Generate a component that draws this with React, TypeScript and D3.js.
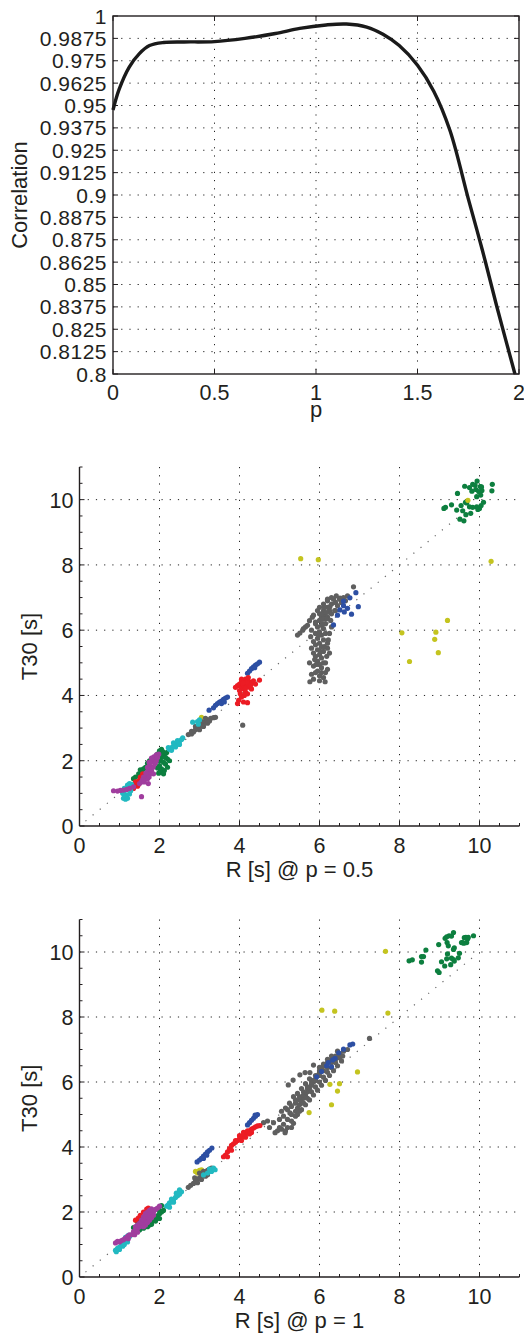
import React, { useRef, useEffect } from 'react';
import * as d3 from 'd3';

// correlation vs p (top panel)
const pValues = [0, 0.03, 0.08, 0.13, 0.18, 0.25, 0.35, 0.5, 0.65, 0.8, 0.92, 1.05, 1.15, 1.25, 1.33, 1.41, 1.5, 1.58, 1.66, 1.75, 1.82, 1.89, 1.98];
const corrValues = [0.9475, 0.959, 0.9715, 0.979, 0.9835, 0.9852, 0.9855, 0.9857, 0.9875, 0.9902, 0.9931, 0.995, 0.9955, 0.9938, 0.9898, 0.9835, 0.9725, 0.958, 0.936, 0.898, 0.869, 0.838, 0.8];
const corrTicks = [0.8, 0.8125, 0.825, 0.8375, 0.85, 0.8625, 0.875, 0.8875, 0.9, 0.9125, 0.925, 0.9375, 0.95, 0.9625, 0.975, 0.9875, 1];
const corrTickLabels = ['0.8', '0.8125', '0.825', '0.8375', '0.85', '0.8625', '0.875', '0.8875', '0.9', '0.9125', '0.925', '0.9375', '0.95', '0.9625', '0.975', '0.9875', '1'];
const pTicks = [0, 0.5, 1, 1.5, 2];
const pTickLabels = ['0', '0.5', '1', '1.5', '2'];

// scatter panels share these
const scatterTicks = [0, 2, 4, 6, 8, 10];
const scatterTickLabels = ['0', '2', '4', '6', '8', '10'];
const diagLine = [0.15, 9.9];

// --- p = 0.5 ---
const halfGreen = [
  [9.11, 9.73], [9.15, 9.76], [9.3, 9.84], [9.45, 10.19], [9.63, 10.41], [9.75, 10.37], [9.83, 10.47], [9.89, 10.44],
  [9.94, 10.57], [9.91, 10.31], [9.98, 10.25], [10.02, 10.4], [10.06, 10.28], [10.32, 10.47], [10.31, 10.27], [10.1, 9.92],
  [10.04, 9.82], [10.0, 9.73], [9.96, 9.7], [9.93, 9.78], [9.83, 9.76], [9.75, 9.78], [9.68, 9.9], [9.54, 9.82],
  [9.43, 9.68], [9.58, 9.66], [9.78, 9.58], [9.66, 9.54], [9.51, 9.4], [9.61, 9.35], [9.81, 10.26], [9.93, 10.09],
  [9.65, 9.92], [10.05, 10.39], [10.03, 10.14],
  [1.4, 1.5], [1.5, 1.55], [1.55, 1.65], [1.6, 1.75], [1.65, 1.8], [1.7, 1.92], [1.75, 2.0], [1.8, 2.02], [1.85, 2.05],
  [1.9, 2.1], [1.95, 2.2], [2.0, 2.3], [2.05, 2.35], [2.1, 2.2], [2.05, 2.1], [2.0, 2.0], [2.1, 1.95], [2.15, 1.9],
  [2.2, 1.8], [2.12, 1.7], [2.05, 1.75], [2.2, 2.05], [2.25, 2.0], [2.0, 1.85], [1.95, 1.78], [1.58, 1.55], [1.48, 1.6],
  [2.08, 2.28], [1.35, 1.45], [2.15, 2.1], [1.98, 1.62], [2.02, 1.68], [2.1, 1.6], [2.18, 2.25], [1.52, 1.72]
];
const halfYellow = [
  [5.53, 8.19], [5.97, 8.16], [10.29, 8.11], [9.71, 9.98], [8.06, 5.92], [8.91, 5.94], [8.88, 5.72], [9.2, 6.3],
  [8.97, 5.31], [8.25, 5.04], [3.05, 3.33]
];
const halfGray = [
  [5.51, 5.91], [5.58, 6.0], [5.75, 6.29], [5.85, 6.46], [5.9, 6.2], [6.0, 6.5], [6.1, 6.6], [6.2, 6.7], [6.26, 6.72],
  [6.3, 6.8], [6.4, 6.85], [6.5, 6.95], [6.51, 6.98], [6.6, 7.0], [6.85, 7.33], [6.0, 6.7], [6.1, 6.8], [6.2, 6.9],
  [6.35, 6.95], [5.95, 6.6], [6.05, 6.4], [6.15, 6.45], [6.25, 6.55], [5.65, 6.1],
  [6.25, 6.6], [6.15, 6.55], [6.05, 6.5], [6.2, 6.4], [6.1, 6.35], [6.0, 6.3], [6.15, 6.2], [6.05, 6.15], [5.95, 6.1],
  [6.1, 6.05], [6.0, 5.95], [5.9, 5.9], [6.05, 5.85], [5.95, 5.75], [6.1, 5.7], [6.0, 5.6], [5.9, 5.55], [6.05, 5.5],
  [5.95, 5.4], [6.1, 5.35], [6.0, 5.25], [5.9, 5.2], [6.05, 5.15], [5.95, 5.05], [6.1, 5.0], [6.0, 4.95], [5.85, 4.9],
  [6.05, 4.85], [5.95, 4.75], [6.15, 4.7], [5.8, 4.65], [6.0, 4.6], [6.1, 4.55], [5.85, 4.5], [5.76, 4.42], [6.14, 4.42],
  [6.2, 4.8], [6.2, 5.6], [5.85, 5.3], [6.15, 5.9],
  [5.82, 6.4], [5.9, 6.25], [6.28, 6.3], [6.3, 6.1], [6.25, 5.9], [6.22, 5.7], [6.2, 5.45], [6.18, 5.2], [6.15, 5.0],
  [6.25, 5.3], [5.8, 6.0], [5.78, 5.8], [5.85, 5.65], [5.8, 5.45], [5.88, 5.1], [5.75, 5.0], [5.9, 4.7], [6.0, 4.45],
  [6.05, 4.7], [5.92, 4.95], [6.02, 5.35], [6.12, 5.5], [5.98, 5.85], [6.08, 6.2], [6.18, 6.35], [6.3, 6.5], [6.38, 6.6],
  [6.45, 6.75], [6.55, 6.85], [6.65, 6.9], [6.7, 7.05], [6.4, 6.6], [5.7, 6.15], [5.6, 6.05], [5.45, 5.85], [6.12, 6.7],
  [6.2, 6.95], [6.3, 7.0], [6.42, 7.05],
  [2.72, 2.8], [2.8, 2.82], [2.85, 2.88], [2.9, 2.95], [2.95, 3.0], [3.0, 3.05], [3.05, 3.1], [3.1, 3.15], [3.15, 3.2],
  [3.2, 3.25], [3.28, 3.3], [3.35, 3.32], [3.4, 3.33], [3.0, 2.95], [3.1, 3.05], [3.2, 3.15], [3.05, 3.2], [3.15, 3.3],
  [2.9, 3.05], [3.25, 3.22], [2.8, 2.9], [4.08, 3.09]
];
const halfBlue = [
  [3.24, 3.55], [3.35, 3.62], [3.4, 3.7], [3.45, 3.75], [3.5, 3.8], [3.55, 3.83], [3.6, 3.88], [3.65, 3.92], [3.7, 3.95],
  [3.55, 3.75], [3.62, 3.8], [4.2, 4.68], [4.25, 4.75], [4.3, 4.82], [4.35, 4.88], [4.4, 4.93], [4.45, 4.97], [4.5, 5.02],
  [4.38, 4.85], [6.6, 6.89], [6.76, 6.99], [6.91, 7.15], [6.97, 6.72], [6.8, 6.49], [6.7, 6.67], [6.62, 6.56],
  [6.51, 6.62], [6.45, 6.46], [6.35, 6.16], [6.6, 6.75]
];
const halfRed = [
  [3.95, 4.3], [4.0, 4.35], [4.05, 4.4], [4.1, 4.45], [4.15, 4.5], [4.2, 4.48], [4.25, 4.42], [4.3, 4.4], [4.05, 4.25],
  [4.1, 4.3], [4.15, 4.35], [4.2, 4.3], [4.25, 4.25], [4.1, 4.2], [4.0, 4.15], [4.15, 4.1], [4.2, 4.05], [4.12, 4.0],
  [4.05, 3.95], [3.98, 3.85], [4.1, 3.8], [4.2, 3.78], [3.95, 3.75], [4.3, 4.2], [4.4, 4.35], [3.9, 4.25], [4.05, 4.5],
  [4.22, 4.55], [4.5, 4.47], [4.18, 4.4], [4.08, 4.38], [4.28, 4.32], [4.02, 4.05], [4.15, 4.22], [4.35, 4.45],
  [1.32, 1.2], [1.38, 1.25], [1.42, 1.3], [1.45, 1.35], [1.5, 1.4], [1.55, 1.45], [1.6, 1.55], [1.48, 1.28], [1.35, 1.15],
  [1.52, 1.5], [1.4, 1.35], [1.58, 1.6], [1.45, 1.22]
];
const halfCyan = [
  [1.1, 0.85], [1.15, 0.82], [1.2, 0.85], [1.12, 0.95], [1.18, 0.95], [1.25, 0.98], [1.1, 1.05], [1.15, 1.1], [1.22, 1.15],
  [1.28, 1.2], [1.3, 1.28], [1.2, 1.25], [1.25, 1.3], [1.12, 1.15], [1.08, 1.0], [1.28, 1.08],
  [2.25, 2.35], [2.3, 2.4], [2.35, 2.45], [2.4, 2.5], [2.45, 2.55], [2.5, 2.6], [2.55, 2.65], [2.58, 2.7], [2.3, 2.32],
  [2.4, 2.42], [2.5, 2.5], [2.35, 2.55], [2.45, 2.62], [2.22, 2.4],
  [2.83, 3.18], [2.95, 3.2], [3.0, 3.25], [2.97, 3.12]
];
const halfMagenta = [
  [0.85, 1.08], [0.95, 1.07], [1.02, 1.09], [1.1, 1.1], [1.18, 1.12], [1.25, 1.15], [1.35, 1.2], [1.55, 0.9],
  [1.62, 1.35], [1.65, 1.45], [1.68, 1.55], [1.7, 1.65], [1.72, 1.75], [1.75, 1.85], [1.78, 1.95], [1.82, 2.05],
  [1.86, 2.12], [1.92, 2.18], [1.98, 2.2], [1.76, 1.6], [1.8, 1.7], [1.84, 1.8], [1.88, 1.9], [1.92, 2.0], [1.95, 2.1],
  [1.7, 1.45], [1.74, 1.5], [1.66, 1.62], [1.7, 1.8], [1.74, 1.95], [1.8, 2.08], [1.9, 1.95], [1.85, 1.6], [1.6, 1.5],
  [1.58, 1.42], [1.55, 1.35], [1.5, 1.3], [1.72, 1.3]
];

// --- p = 1 ---
const oneGreen = [
  [8.24, 9.73], [8.32, 9.76], [8.55, 9.69], [8.55, 9.86], [8.6, 9.86], [8.66, 10.06], [8.95, 9.42], [8.99, 9.37],
  [8.98, 10.23], [9.05, 9.7], [9.13, 9.57], [9.14, 10.42], [9.19, 10.29], [9.24, 10.5], [9.3, 10.49], [9.35, 10.6],
  [9.37, 10.13], [9.35, 10.08], [9.2, 9.94], [9.18, 9.79], [9.28, 9.61], [9.3, 9.81], [9.35, 9.77], [9.37, 9.72],
  [9.47, 9.82], [9.5, 9.96], [9.58, 10.29], [9.62, 10.44], [9.66, 10.45], [9.7, 10.4], [9.68, 10.29], [9.61, 10.27],
  [9.55, 10.29], [9.85, 10.5], [9.72, 10.45], [9.18, 10.47], [9.22, 10.19],
  [1.4, 1.4], [1.5, 1.45], [1.6, 1.5], [1.7, 1.55], [1.75, 1.6], [1.8, 1.7], [1.85, 1.75], [1.9, 1.8], [1.95, 1.88],
  [2.0, 1.95], [2.05, 2.0], [2.0, 2.05], [1.9, 1.72], [1.8, 1.62], [1.55, 1.55], [1.35, 1.52], [1.45, 1.7], [1.5, 1.78],
  [2.05, 2.2], [2.1, 2.05], [2.0, 1.8]
];
const oneYellow = [
  [7.65, 10.02], [6.06, 8.21], [6.38, 8.18], [7.71, 8.12], [6.95, 6.31], [6.26, 5.93], [6.5, 5.95], [6.45, 5.72],
  [6.3, 5.3], [5.74, 5.06], [2.95, 3.2], [3.0, 3.28], [2.9, 3.25], [3.05, 3.3]
];
const oneGray = [
  [4.6, 4.75], [4.7, 4.8], [4.89, 4.44], [5.14, 4.44], [5.0, 4.6], [5.1, 4.7], [5.2, 4.85], [5.26, 5.05], [5.35, 4.73],
  [5.3, 5.0], [5.4, 5.1], [5.45, 5.2], [5.5, 5.3], [5.55, 5.4], [5.6, 5.5], [5.65, 5.6], [5.7, 5.7], [5.75, 5.8],
  [5.8, 5.9], [5.85, 6.0], [5.9, 6.1], [5.95, 6.2], [6.0, 6.3], [6.05, 6.4], [6.1, 6.5], [6.2, 6.6], [6.3, 6.7],
  [6.4, 6.8], [6.5, 6.85], [6.51, 6.86], [5.4, 5.35], [5.5, 5.45], [5.6, 5.6], [5.7, 5.8], [5.8, 5.95], [5.9, 6.05],
  [6.0, 6.2], [6.1, 6.35], [6.2, 6.45], [6.3, 6.6], [6.4, 6.7], [5.22, 5.91], [5.34, 6.06], [5.51, 6.22], [5.64, 6.29],
  [5.76, 6.29], [5.85, 6.52], [7.25, 7.34], [5.2, 4.6], [5.3, 4.8], [5.45, 5.0], [5.55, 5.15], [5.65, 5.3], [5.75, 5.45],
  [5.85, 5.6], [5.95, 5.75], [6.05, 5.9], [6.15, 6.05], [6.25, 6.2], [6.35, 6.35], [6.45, 6.5], [6.55, 6.65], [6.6, 6.95],
  [6.7, 7.0], [6.0, 6.45], [4.95, 4.5], [5.05, 4.55],
  [4.75, 4.6], [4.85, 4.75], [5.0, 4.85], [5.1, 4.95], [5.2, 5.15], [5.3, 5.25], [5.4, 5.45], [5.5, 5.55], [5.6, 5.7],
  [5.7, 5.85], [5.8, 6.05], [5.9, 6.2], [6.0, 6.35], [6.1, 6.55], [6.2, 6.7], [6.3, 6.8], [6.45, 6.95], [5.35, 5.55],
  [5.45, 5.65], [5.55, 5.8], [5.65, 5.95], [5.75, 6.1], [5.25, 5.35], [5.15, 5.2], [5.05, 5.1], [5.6, 5.35], [5.7, 5.5],
  [5.8, 5.7], [5.9, 5.85], [6.0, 6.0], [6.1, 6.15], [6.2, 6.3], [6.3, 6.45], [6.4, 6.6], [6.5, 6.75], [6.58, 6.8],
  [5.5, 5.1], [5.4, 4.95], [5.3, 4.6], [5.15, 4.5],
  [2.72, 2.76], [2.78, 2.82], [2.85, 2.88], [2.9, 2.95], [2.95, 3.0], [3.0, 3.05], [3.05, 3.1], [3.1, 3.15], [3.15, 3.2],
  [3.2, 3.28], [3.25, 3.32], [3.3, 3.35], [2.95, 2.9], [3.05, 3.0], [3.15, 3.1], [3.0, 3.2], [3.1, 3.25], [2.88, 3.05],
  [3.2, 3.15]
];
const oneBlue = [
  [2.94, 3.54], [3.0, 3.6], [3.05, 3.65], [3.1, 3.72], [3.15, 3.78], [3.2, 3.85], [3.25, 3.9], [3.31, 3.97], [3.18, 3.75],
  [3.1, 3.65], [4.2, 4.68], [4.25, 4.75], [4.3, 4.82], [4.35, 4.88], [4.4, 4.95], [4.45, 5.0], [4.39, 4.98],
  [6.6, 7.01], [6.76, 7.14], [6.83, 7.17], [6.48, 6.9], [6.39, 6.73], [6.33, 6.68], [6.22, 6.6], [6.18, 6.5], [6.05, 6.32],
  [5.93, 6.16], [6.3, 6.47]
];
const oneRed = [
  [3.6, 3.7], [3.65, 3.75], [3.7, 3.85], [3.75, 3.95], [3.8, 4.05], [3.85, 4.1], [3.9, 4.15], [3.95, 4.2], [4.0, 4.25],
  [4.05, 4.3], [4.1, 4.35], [4.15, 4.4], [4.2, 4.45], [4.25, 4.5], [4.3, 4.55], [4.35, 4.58], [4.4, 4.62], [4.45, 4.65],
  [4.0, 4.35], [4.1, 4.45], [4.2, 4.5], [4.3, 4.45], [4.15, 4.3], [4.05, 4.2], [3.9, 4.2], [3.8, 3.9], [4.25, 4.4],
  [4.51, 4.66], [3.7, 3.7],
  [1.68, 2.09], [1.47, 1.81], [1.52, 1.9], [1.4, 1.75], [1.6, 2.0], [1.72, 2.12]
];
const oneCyan = [
  [0.9, 0.82], [0.95, 0.88], [1.0, 0.92], [1.05, 0.98], [1.1, 1.05], [1.15, 1.1], [1.2, 1.18], [1.25, 1.25], [1.0, 0.85],
  [1.08, 0.95], [1.12, 1.0], [1.2, 1.08], [0.92, 0.78], [1.22, 1.28], [1.15, 1.22],
  [2.18, 2.18], [2.22, 2.22], [2.25, 2.28], [2.3, 2.32], [2.35, 2.38], [2.4, 2.45], [2.45, 2.5], [2.5, 2.55], [2.55, 2.62],
  [2.5, 2.68], [2.42, 2.58], [2.3, 2.4], [2.25, 2.15], [2.35, 2.3],
  [3.1, 3.14], [3.2, 3.2], [3.3, 3.25], [3.39, 3.3], [3.35, 3.35], [3.25, 3.32]
];
const oneMagenta = [
  [0.9, 1.05], [0.95, 1.1], [1.0, 1.08], [1.05, 1.12], [1.1, 1.15], [1.15, 1.2], [1.2, 1.25], [1.25, 1.3],
  [1.3, 1.3], [1.35, 1.4], [1.4, 1.45], [1.45, 1.5], [1.5, 1.55], [1.55, 1.6], [1.6, 1.7], [1.65, 1.75], [1.7, 1.85],
  [1.75, 1.9], [1.8, 1.95], [1.85, 2.0], [1.9, 2.08], [1.95, 2.12], [2.0, 2.18], [1.6, 1.85], [1.65, 1.95], [1.7, 2.0],
  [1.75, 2.05], [1.8, 2.1], [1.55, 1.75], [1.5, 1.65], [1.45, 1.6], [1.4, 1.55], [1.65, 1.6], [1.7, 1.68], [1.75, 1.75],
  [1.8, 1.82], [1.85, 1.9], [1.6, 1.55], [1.38, 1.3], [1.45, 1.38], [1.22, 1.18]
];

const colors = {
  green: '#0d7f3f',
  yellow: '#c4c41f',
  gray: '#5f5f5f',
  blue: '#2d4fa3',
  red: '#ec1c24',
  cyan: '#22b9c1',
  magenta: '#a03d9e'
};

const FONT = '"Liberation Sans", Arial, Helvetica, sans-serif';
const INK = '#231f20';

function drawCorrelation(root) {
  const left = 113, right = 519, top = 16, bottom = 374;
  const x = d3.scaleLinear().domain([0, 2]).range([left, right]);
  const y = d3.scaleLinear().domain([0.8, 1]).range([bottom, top]);
  const g = root.append('g');

  // grid
  g.selectAll('.hgrid').data(corrTicks.slice(1, -1)).enter().append('line')
    .attr('x1', left).attr('x2', right)
    .attr('y1', d => y(d)).attr('y2', d => y(d))
    .attr('stroke', '#222').attr('stroke-width', 1).attr('stroke-dasharray', '1.2,7');
  g.selectAll('.vgrid').data(pTicks.slice(1, -1)).enter().append('line')
    .attr('x1', d => x(d)).attr('x2', d => x(d))
    .attr('y1', top).attr('y2', bottom)
    .attr('stroke', '#222').attr('stroke-width', 1).attr('stroke-dasharray', '1.2,7');

  // ticks inside on all four sides
  corrTicks.forEach(t => {
    g.append('line').attr('x1', left).attr('x2', left + 5).attr('y1', y(t)).attr('y2', y(t)).attr('stroke', INK);
    g.append('line').attr('x1', right).attr('x2', right - 5).attr('y1', y(t)).attr('y2', y(t)).attr('stroke', INK);
  });
  pTicks.forEach(t => {
    g.append('line').attr('x1', x(t)).attr('x2', x(t)).attr('y1', bottom).attr('y2', bottom - 5).attr('stroke', INK);
    g.append('line').attr('x1', x(t)).attr('x2', x(t)).attr('y1', top).attr('y2', top + 5).attr('stroke', INK);
  });

  // curve
  const line = d3.line().x(d => x(d[0])).y(d => y(d[1])).curve(d3.curveCatmullRom.alpha(0.5));
  g.append('path')
    .datum(pValues.map((p, i) => [p, corrValues[i]]))
    .attr('d', line)
    .attr('fill', 'none').attr('stroke', '#1a1a1a').attr('stroke-width', 3.4)
    .attr('stroke-linejoin', 'round');

  // box
  g.append('rect').attr('x', left).attr('y', top).attr('width', right - left).attr('height', bottom - top)
    .attr('fill', 'none').attr('stroke', INK).attr('stroke-width', 1.4);

  // labels
  g.selectAll('.ylab').data(corrTicks).enter().append('text')
    .attr('x', left - 6).attr('y', d => y(d) + 7.5)
    .attr('text-anchor', 'end').attr('font-size', 21).attr('letter-spacing', 0.5)
    .attr('font-family', FONT).attr('fill', INK)
    .text((d, i) => corrTickLabels[i]);
  g.selectAll('.xlab').data(pTicks).enter().append('text')
    .attr('x', d => x(d)).attr('y', bottom + 26)
    .attr('text-anchor', 'middle').attr('font-size', 21.5).attr('font-family', FONT).attr('fill', INK)
    .text((d, i) => pTickLabels[i]);
  g.append('text').attr('x', (left + right) / 2).attr('y', bottom + 43)
    .attr('text-anchor', 'middle').attr('font-size', 22).attr('font-family', FONT).attr('fill', INK).text('p');
  g.append('text').attr('transform', `translate(27,${(top + bottom) / 2}) rotate(-90)`)
    .attr('text-anchor', 'middle').attr('font-size', 22).attr('font-family', FONT).attr('fill', INK).text('Correlation');
}

function drawScatter(root, top, bottom, xLabel, series) {
  const left = 79.5, right = 519.5;
  const x = d3.scaleLinear().domain([0, 11]).range([left, right]);
  const y = d3.scaleLinear().domain([0, 11]).range([bottom, top]);
  const g = root.append('g');

  // dotted grid
  g.selectAll('.hgrid').data(scatterTicks.slice(1)).enter().append('line')
    .attr('x1', left).attr('x2', right)
    .attr('y1', d => y(d)).attr('y2', d => y(d))
    .attr('stroke', '#222').attr('stroke-width', 1).attr('stroke-dasharray', '1.2,7');
  g.selectAll('.vgrid').data(scatterTicks.slice(1)).enter().append('line')
    .attr('x1', d => x(d)).attr('x2', d => x(d))
    .attr('y1', top).attr('y2', bottom)
    .attr('stroke', '#222').attr('stroke-width', 1).attr('stroke-dasharray', '1.2,7');

  // y = x reference line
  g.append('line')
    .attr('x1', x(diagLine[0])).attr('y1', y(diagLine[0]))
    .attr('x2', x(diagLine[1])).attr('y2', y(diagLine[1]))
    .attr('stroke', '#666').attr('stroke-width', 1.2).attr('stroke-dasharray', '1.2,8');

  // points
  series.forEach(([pts, color]) => {
    g.append('g').selectAll('circle').data(pts).enter().append('circle')
      .attr('cx', d => x(d[0])).attr('cy', d => y(d[1]))
      .attr('r', 2.6).attr('fill', color);
  });

  // minor + major ticks
  const minor = d3.range(0, 11.01, 0.5);
  minor.forEach(t => {
    const major = t % 2 === 0;
    const len = major ? 5 : 3;
    g.append('line').attr('x1', left).attr('x2', left + len).attr('y1', y(t)).attr('y2', y(t))
      .attr('stroke', INK).attr('stroke-width', 1);
    g.append('line').attr('x1', x(t)).attr('x2', x(t)).attr('y1', bottom).attr('y2', bottom - len)
      .attr('stroke', INK).attr('stroke-width', 1);
  });

  // axis lines
  g.append('line').attr('x1', left).attr('x2', left).attr('y1', top).attr('y2', bottom)
    .attr('stroke', INK).attr('stroke-width', 1.4);
  g.append('line').attr('x1', left).attr('x2', right).attr('y1', bottom).attr('y2', bottom)
    .attr('stroke', INK).attr('stroke-width', 1.4);

  g.selectAll('.ylab').data(scatterTicks).enter().append('text')
    .attr('x', left - 6).attr('y', d => y(d) + 8)
    .attr('text-anchor', 'end').attr('font-size', 21.5).attr('font-family', FONT).attr('fill', INK)
    .text((d, i) => scatterTickLabels[i]);
  g.selectAll('.xlab').data(scatterTicks).enter().append('text')
    .attr('x', d => x(d)).attr('y', bottom + 27)
    .attr('text-anchor', 'middle').attr('font-size', 21.5).attr('font-family', FONT).attr('fill', INK)
    .text((d, i) => scatterTickLabels[i]);
  g.append('text').attr('x', (left + right) / 2).attr('y', bottom + 51)
    .attr('text-anchor', 'middle').attr('font-size', 22).attr('font-family', FONT).attr('fill', INK).text(xLabel);
  g.append('text').attr('transform', `translate(37,${(top + bottom) / 2}) rotate(-90)`)
    .attr('text-anchor', 'middle').attr('font-size', 22).attr('font-family', FONT).attr('fill', INK).text('T30 [s]');
}

const App = () => {
  const svgRef = useRef(null);

  useEffect(() => {
    if (!svgRef.current) return;
    const svg = d3.select(svgRef.current);
    svg.selectAll('*').remove();
    svg.append('rect').attr('width', 524).attr('height', 1334).attr('fill', '#fff');

    drawCorrelation(svg);
    drawScatter(svg, 467, 826, 'R [s] @ p = 0.5', [
      [halfGreen, colors.green], [halfYellow, colors.yellow], [halfGray, colors.gray], [halfBlue, colors.blue],
      [halfRed, colors.red], [halfCyan, colors.cyan], [halfMagenta, colors.magenta]
    ]);
    drawScatter(svg, 919.5, 1277, 'R [s] @ p = 1', [
      [oneGreen, colors.green], [oneYellow, colors.yellow], [oneGray, colors.gray], [oneBlue, colors.blue],
      [oneRed, colors.red], [oneCyan, colors.cyan], [oneMagenta, colors.magenta]
    ]);
  }, []);

  return (
    <svg ref={svgRef} width={524} height={1334}
      style={{ position: 'absolute', left: 0, top: 0, display: 'block' }} />
  );
};

export default App;
